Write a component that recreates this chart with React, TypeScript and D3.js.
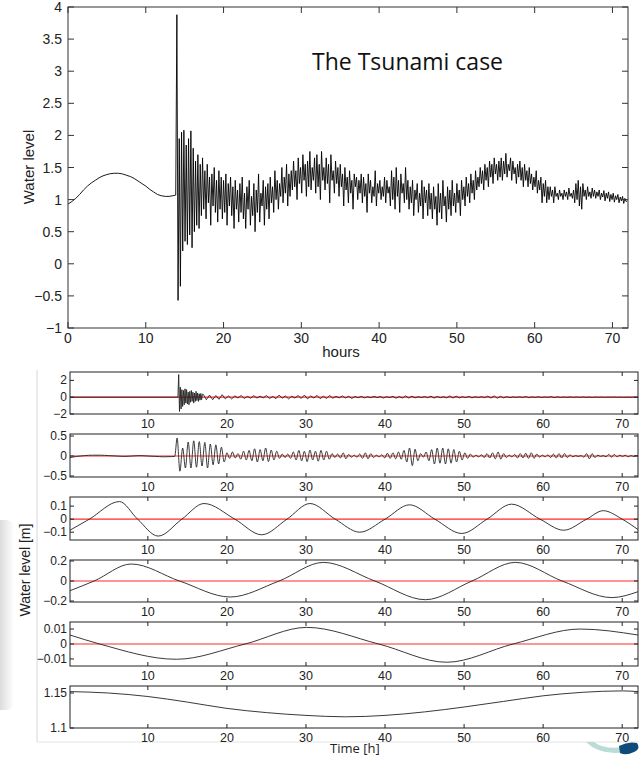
import React from 'react';
import * as d3 from 'd3';

// ---- top panel: observed water level ----
const hourTicks = [0, 10, 20, 30, 40, 50, 60, 70];
const levelTicks = [-1, -0.5, 0, 0.5, 1, 1.5, 2, 2.5, 3, 3.5, 4];

// calm tide before the wave, every 0.5 h from 0 h
const calmStart = 0;
const calmStep = 0.5;
const calmLevels = [
  0.93, 0.97, 1.02, 1.08, 1.15, 1.21, 1.26, 1.3, 1.34, 1.37, 1.39, 1.405, 1.41, 1.41,
  1.4, 1.38, 1.36, 1.33, 1.29, 1.25, 1.21, 1.16, 1.12, 1.08, 1.06, 1.05, 1.05, 1.06,
];

// tsunami arrival onwards, every 0.15 h from 13.85 h
const surgeStart = 13.85;
const surgeStep = 0.15;
const surgeLevels = [
  1.07, 3.88, -0.57, 1.95, -0.35, 2.05, 0.2, 2.08, 0.35, 1.85, 0.3, 1.95, 0.45, 2.07, 0.25, 1.8, 0.5, 1.6, 0.6, 1.7,
  0.55, 1.55, 0.75, 1.65, 0.85, 1.45, 0.7, 1.55, 0.95, 1.35, 0.6, 1.4, 0.9, 1.5, 0.8, 1.3, 0.65, 1.45, 0.85, 1.35,
  0.7, 1.3, 0.8, 1.4, 0.6, 1.25, 0.9, 1.35, 0.75, 1.2, 0.55, 1.3, 0.85, 1.15, 0.65, 1.25, 0.8, 1.35, 0.7, 1.1,
  0.55, 1.2, 0.85, 1.3, 0.6, 1.05, 0.75, 1.25, 0.5, 1.15, 0.8, 1.4, 0.65, 1.1, 0.9, 1.3, 0.6, 1.2, 0.85, 1.25,
  0.7, 1.35, 0.95, 1.2, 0.8, 1.45, 1.0, 1.3, 0.85, 1.25, 1.05, 1.5, 0.95, 1.35, 1.1, 1.55, 0.9, 1.4, 1.05, 1.45,
  1.15, 1.6, 1.2, 1.45, 1.0, 1.65, 1.25, 1.5, 1.1, 1.7, 1.3, 1.55, 1.05, 1.6, 1.2, 1.75, 1.15, 1.5, 1.3, 1.65,
  1.1, 1.7, 1.2, 1.55, 1.0, 1.75, 1.3, 1.5, 1.15, 1.65, 1.25, 1.55, 0.95, 1.7, 1.3, 1.45, 1.1, 1.6, 1.25, 1.5,
  1.05, 1.55, 1.2, 1.4, 0.9, 1.5, 1.15, 1.35, 0.95, 1.45, 1.1, 1.3, 0.85, 1.4, 1.2, 1.35, 1.0, 1.3, 1.1, 1.4,
  0.95, 1.35, 1.05, 1.25, 0.8, 1.4, 1.1, 1.3, 0.95, 1.2, 1.05, 1.45, 0.9, 1.25, 1.1, 1.3, 1.0, 1.2, 1.05, 1.35,
  0.95, 1.3, 1.1, 1.2, 0.9, 1.45, 1.0, 1.35, 0.85, 1.5, 1.05, 1.3, 0.8, 1.4, 1.1, 1.25, 0.95, 1.5, 1.0, 1.3,
  0.85, 1.2, 0.95, 1.3, 0.75, 1.15, 1.0, 1.25, 0.8, 1.1, 0.9, 1.3, 0.7, 1.2, 0.95, 1.15, 0.75, 1.25, 0.85, 1.1,
  0.7, 1.2, 0.85, 1.05, 0.6, 1.25, 0.8, 1.1, 0.7, 1.3, 0.9, 1.05, 0.65, 1.2, 0.85, 1.15, 0.75, 1.3, 0.9, 1.1,
  0.8, 1.25, 0.95, 1.15, 0.75, 1.3, 1.0, 1.2, 0.9, 1.35, 1.05, 1.25, 0.95, 1.4, 1.1, 1.3, 1.0, 1.45, 1.15, 1.35,
  1.2, 1.5, 1.25, 1.45, 1.15, 1.55, 1.3, 1.5, 1.2, 1.6, 1.35, 1.55, 1.25, 1.65, 1.4, 1.55, 1.3, 1.6, 1.35, 1.65,
  1.3, 1.6, 1.4, 1.72, 1.35, 1.55, 1.45, 1.65, 1.3, 1.6, 1.4, 1.5, 1.25, 1.55, 1.35, 1.6, 1.3, 1.5, 1.2, 1.55,
  1.3, 1.45, 1.2, 1.5, 1.25, 1.4, 1.15, 1.35, 1.2, 1.45, 1.1, 1.3, 1.15, 1.35, 0.95, 1.25, 1.05, 1.3, 0.95, 1.2,
  1.0, 1.2, 1.05, 1.15, 0.95, 1.2, 1.05, 1.1, 1.0, 1.15, 1.05, 1.1, 1.0, 1.15, 1.05, 1.12, 1.0, 1.18, 1.05, 1.1,
  1.02, 1.15, 0.95, 1.25, 1.0, 1.3, 0.9, 1.2, 0.85, 1.25, 1.05, 1.15, 1.0, 1.2, 1.05, 1.12, 1.02, 1.18, 1.05, 1.15,
  1.02, 1.12, 1.05, 1.15, 1.0, 1.1, 1.04, 1.14, 0.98, 1.1, 1.02, 1.12, 0.97, 1.08, 1.0, 1.1, 0.96, 1.06, 1.0, 1.08,
  0.95, 1.04, 0.98, 1.05, 0.94, 1.02, 0.97, 0.98,
];

// ---- lower panels: decomposed components ----
const panelHourTicks = [10, 20, 30, 40, 50, 60, 70];

// 1: high frequency part
const hfQuietTimes = [0.15, 13.7];
const hfQuietValues = [0, 0];
const hfBurstStart = 13.8;
const hfBurstStep = 0.1;
const hfBurstValues = [
  0, 2.7, -1.7, 1.2, -1.4, 0.9, -1.1, 0.8, -0.9, 1.0, -0.7, 0.9, -0.8, 0.6, -0.9, 0.7,
  -0.6, 0.8, -0.5, 0.6, -0.7, 0.5, -0.5, 0.7, -0.4, 0.5, -0.5, 0.4, -0.35, 0.45, -0.3, 0.35,
];
const hfTailStart = 17.0;
const hfTailStep = 0.4;
const hfTailValues = [
  0.35, -0.3, 0.25, -0.3, 0.2, -0.25, 0.3, -0.2, 0.15, -0.2,
  0.15, -0.1, 0.2, -0.15, 0.1, -0.12, 0.18, -0.1, 0.12, -0.08,
  0.2, -0.15, 0.1, -0.18, 0.25, -0.12, 0.15, -0.2, 0.12, -0.1,
  0.2, -0.15, 0.25, -0.2, 0.15, -0.1, 0.22, -0.18, 0.12, -0.15,
  0.2, -0.12, 0.1, -0.08, 0.15, -0.1, 0.12, -0.15, 0.08, -0.06,
  0.1, -0.08, 0.05, -0.06, 0.1, -0.05, 0.08, -0.1, 0.06, -0.04,
  0.1, -0.12, 0.08, -0.1, 0.15, -0.1, 0.12, -0.08, 0.06, -0.05,
  0.08, -0.06, 0.12, -0.1, 0.08, -0.05, 0.06, -0.08, 0.15, -0.1,
  0.12, -0.08, 0.06, -0.05, 0.1, -0.08, 0.05, -0.04, 0.06, -0.05,
  0.12, -0.1, 0.15, -0.12, 0.1, -0.08, 0.06, -0.05, 0.04, -0.03,
  0.05, -0.04, 0.08, -0.06, 0.04, -0.03, 0.05, -0.04, 0.03, -0.02,
  0.06, -0.05, 0.04, -0.03, 0.02, -0.02, 0.03, -0.02, 0.02, -0.02,
  0.03, -0.02, 0.02, -0.03, 0.02, -0.01, 0.02, -0.02, 0.01, -0.01,
  0.02, -0.01, 0.01, -0.02, 0.01, -0.01, 0.01, -0.01, 0,
];

// 2: seiche band
const seicheCalmTimes = [0.15, 1, 2, 3, 4, 5, 6, 7, 8, 9, 10, 11, 12, 13, 13.4];
const seicheCalmValues = [-0.04, -0.01, 0.01, 0.02, 0.02, 0.01, 0, -0.01, 0, 0.01, 0, -0.01, -0.02, -0.015, -0.01];
const seicheStart = 13.7;
const seicheStep = 0.35;
const seicheValues = [
  0.45, -0.38, 0.2, -0.3, 0.35, -0.3, 0.38, -0.28, 0.36, -0.25, 0.34, -0.3, 0.3, -0.22, 0.28, -0.2, 0.22, -0.15, 0.08, -0.06,
  0.1, -0.05, 0.06, -0.08, 0.12, -0.1, 0.14, -0.12, 0.18, -0.15, 0.16, -0.12, 0.2, -0.14, 0.15, -0.1, 0.12, -0.06, 0.05, -0.04,
  0.05, -0.06, 0.1, -0.1, 0.14, -0.12, 0.12, -0.14, 0.15, -0.1, 0.12, -0.13, 0.14, -0.1, 0.12, -0.08, 0.06, -0.04, 0.05, -0.05,
  0.08, -0.07, 0.04, -0.03, 0.02, -0.03, 0.05, -0.06, 0.08, -0.07, 0.06, -0.04, 0.02, -0.02, 0.03, -0.05, 0.07, -0.06, 0.08, -0.07,
  0.1, -0.08, 0.14, -0.15, 0.2, -0.24, 0.17, -0.12, 0.06, -0.03, 0.1, -0.12, 0.16, -0.2, 0.2, -0.18, 0.2, -0.2, 0.18, -0.18,
  0.16, -0.15, 0.12, -0.1, 0.08, -0.06, 0.05, -0.03, 0.02, -0.02, 0.03, -0.04, 0.06, -0.05, 0.08, -0.07, 0.1, -0.08, 0.06, -0.04,
  0.02, -0.02, 0.04, -0.05, 0.06, -0.05, 0.07, -0.06, 0.08, -0.06, 0.05, -0.03, 0.02, -0.02, 0.03, -0.04, 0.05, -0.05, 0.06, -0.05,
  0.06, -0.04, 0.03, -0.02, 0.01, -0.01, 0.01, -0.03, 0.06, -0.07, 0.06, -0.04, 0.02, -0.01, 0.01, -0.02, 0.04, -0.03, 0.04, -0.02,
  0.02, -0.01, 0.02, -0.02, 0.01, -0.01, 0.01, 0,
];

// 3: semi-diurnal tide (extremes and zero crossings)
const semiTimes = [0.15, 2.6, 6.4, 8.7, 11.3, 14.3, 17.1, 21.0, 24.4, 27.6, 30.5, 33.7, 36.8, 40.0, 43.1, 46.3, 49.7, 52.9, 56.0, 59.6, 62.6, 65.5, 67.6, 70.0, 72];
const semiValues = [-0.085, 0, 0.135, 0, -0.13, 0, 0.12, 0, -0.12, 0, 0.12, 0, -0.1, 0, 0.11, 0, -0.11, 0, 0.115, 0, -0.085, 0, 0.065, 0, -0.08];

// 4: diurnal tide
const diurnalTimes = [0.15, 3.2, 7.9, 14.0, 20.4, 26.6, 32.2, 38.7, 45.1, 51.0, 56.5, 62.4, 68.7, 72];
const diurnalValues = [-0.097, 0, 0.17, 0, -0.16, 0, 0.186, 0, -0.187, 0, 0.186, 0, -0.166, -0.107];

// 5: long period part
const longTimes = [0.15, 3.9, 13.6, 22.3, 30.1, 39.2, 47.8, 56.2, 64.7, 72];
const longValues = [0.006, 0, -0.0102, 0, 0.0111, 0, -0.0122, 0, 0.01, 0.006];

// 6: mean level trend
const trendTimes = [0.15, 5, 10, 15, 20, 25, 30, 35, 40, 45, 50, 55, 60, 65, 70, 72];
const trendValues = [1.152, 1.15, 1.145, 1.137, 1.128, 1.122, 1.118, 1.116, 1.118, 1.123, 1.13, 1.138, 1.146, 1.151, 1.153, 1.152];

type Pt = [number, number];
const sampled = (start: number, step: number, vals: number[]): Pt[] => vals.map((v, i) => [start + i * step, v]);
const zipped = (ts: number[], vs: number[]): Pt[] => ts.map((t, i) => [t, vs[i]]);
const fmt = (v: number) => String(v).replace('-', '\u2212');

const TICK_FONT = '"Liberation Sans", Arial, sans-serif';
const SLIDE_FONT = '"Open Sans", "Noto Sans", sans-serif';

function LowerPanel({ id, top, bottom, domain, yTicks, series, curve, zero }: any) {
  const x = d3.scaleLinear().domain([0.15, 72]).range([70, 638]);
  const y = d3.scaleLinear().domain(domain).range([bottom, top]);
  const line = d3.line<Pt>().x(d => x(d[0])).y(d => y(d[1])).curve(curve);
  return (
    <g>
      <clipPath id={id}>
        <rect x={70} y={top} width={568} height={bottom - top} />
      </clipPath>
      {zero && <line x1={70} x2={638} y1={y(0)} y2={y(0)} stroke="#ff2a2a" strokeWidth={1.2} />}
      <path d={line(series) || ''} fill="none" stroke="#222" strokeWidth={0.9} clipPath={`url(#${id})`} />
      <rect x={70} y={top} width={568} height={bottom - top} fill="none" stroke="#222" strokeWidth={1} />
      {panelHourTicks.map(t => (
        <g key={t}>
          <line x1={x(t)} x2={x(t)} y1={bottom} y2={bottom - 4} stroke="#222" />
          <line x1={x(t)} x2={x(t)} y1={top} y2={top + 4} stroke="#222" />
          <text x={x(t)} y={bottom + 14} textAnchor="middle" fontSize={12.5} fontFamily={TICK_FONT} fill="#222">{t}</text>
        </g>
      ))}
      {yTicks.map((v: number) => (
        <g key={v}>
          <line x1={70} x2={74} y1={y(v)} y2={y(v)} stroke="#222" />
          <line x1={638} x2={634} y1={y(v)} y2={y(v)} stroke="#222" />
          <text x={67} y={y(v) + 4} textAnchor="end" fontSize={12} fontFamily={TICK_FONT} fill="#222">{fmt(v)}</text>
        </g>
      ))}
    </g>
  );
}

export default function App() {
  const x = d3.scaleLinear().domain([0, 72]).range([68, 628]);
  const y = d3.scaleLinear().domain([-1, 4]).range([328, 7]);
  const topLine = d3.line<Pt>().x(d => x(d[0])).y(d => y(d[1]));
  const observed = sampled(calmStart, calmStep, calmLevels).concat(sampled(surgeStart, surgeStep, surgeLevels));

  const panels = [
    { top: 372, bottom: 414, domain: [-2, 3], yTicks: [-2, 0, 2], curve: d3.curveLinear, zero: true,
      series: zipped(hfQuietTimes, hfQuietValues).concat(sampled(hfBurstStart, hfBurstStep, hfBurstValues), sampled(hfTailStart, hfTailStep, hfTailValues)) },
    { top: 434, bottom: 477, domain: [-0.525, 0.55], yTicks: [-0.5, 0, 0.5], curve: d3.curveMonotoneX, zero: true,
      series: zipped(seicheCalmTimes, seicheCalmValues).concat(sampled(seicheStart, seicheStep, seicheValues)) },
    { top: 497, bottom: 540, domain: [-0.16, 0.17], yTicks: [-0.1, 0, 0.1], curve: d3.curveMonotoneX, zero: true,
      series: zipped(semiTimes, semiValues) },
    { top: 560, bottom: 602, domain: [-0.21, 0.21], yTicks: [-0.2, 0, 0.2], curve: d3.curveMonotoneX, zero: true,
      series: zipped(diurnalTimes, diurnalValues) },
    { top: 622, bottom: 666, domain: [-0.0147, 0.0147], yTicks: [-0.01, 0, 0.01], curve: d3.curveMonotoneX, zero: true,
      series: zipped(longTimes, longValues) },
    { top: 686, bottom: 728, domain: [1.1, 1.16], yTicks: [1.1, 1.15], curve: d3.curveMonotoneX, zero: false,
      series: zipped(trendTimes, trendValues) },
  ];

  return (
    <svg width={639} height={757} style={{ position: 'absolute', left: 0, top: 0, background: '#fff' }}>
      <defs>
        <linearGradient id="edge" x1="0" x2="1" y1="0" y2="0">
          <stop offset="0" stopColor="#c8c8c8" />
          <stop offset="1" stopColor="#ffffff" />
        </linearGradient>
        <clipPath id="topclip">
          <rect x={68} y={7} width={560} height={321} />
        </clipPath>
      </defs>

      {/* top panel */}
      <path d={topLine(observed) || ''} fill="none" stroke="#000" strokeWidth={0.9} clipPath="url(#topclip)" />
      <rect x={68} y={7} width={560} height={321} fill="none" stroke="#333" strokeWidth={1} />
      {hourTicks.map(t => (
        <g key={t}>
          <line x1={x(t)} x2={x(t)} y1={328} y2={322} stroke="#333" />
          <line x1={x(t)} x2={x(t)} y1={7} y2={13} stroke="#333" />
          <text x={x(t)} y={343} textAnchor="middle" fontSize={14} fontFamily={TICK_FONT} fill="#222">{t}</text>
        </g>
      ))}
      {levelTicks.map(v => (
        <g key={v}>
          <line x1={68} x2={74} y1={y(v)} y2={y(v)} stroke="#333" />
          <line x1={628} x2={622} y1={y(v)} y2={y(v)} stroke="#333" />
          <text x={62} y={y(v) + 5} textAnchor="end" fontSize={14} fontFamily={TICK_FONT} fill="#222">{fmt(v)}</text>
        </g>
      ))}
      <text x={341} y={357} textAnchor="middle" fontSize={15} fontFamily={TICK_FONT} fill="#222">hours</text>
      <text transform="translate(34,167) rotate(-90)" textAnchor="middle" fontSize={15} fontFamily={TICK_FONT} fill="#222">Water level</text>
      <text x={312} y={70} fontSize={23} fontFamily={SLIDE_FONT} fill="#111">The Tsunami case</text>

      {/* slide decoration */}
      <rect x={-8} y={520} width={22} height={190} rx={8} fill="url(#edge)" />
      <line x1={37} x2={37} y1={370} y2={742} stroke="#d6d6d6" />
      <line x1={37} x2={639} y1={742} y2={742} stroke="#e4e4e4" />
      <path d="M586,742 Q600,756 626,752 L626,747 Q604,750 594,742 Z" fill="#b9ddd6" />
      <path d="M619,746 Q628,741 637,743 Q641,749 634,752 Q626,756 620,753 Z" fill="#0e4a7a" />

      {/* lower panels */}
      {panels.map((p, i) => (
        <LowerPanel key={i} id={`pc${i}`} {...p} />
      ))}
      <text transform="translate(30,570) rotate(-90)" textAnchor="middle" fontSize={14} fontFamily={TICK_FONT} fill="#222">Water level [m]</text>
      <text x={330} y={753} fontSize={13} fontFamily={SLIDE_FONT} fill="#222">Time [h]</text>
    </svg>
  );
}
